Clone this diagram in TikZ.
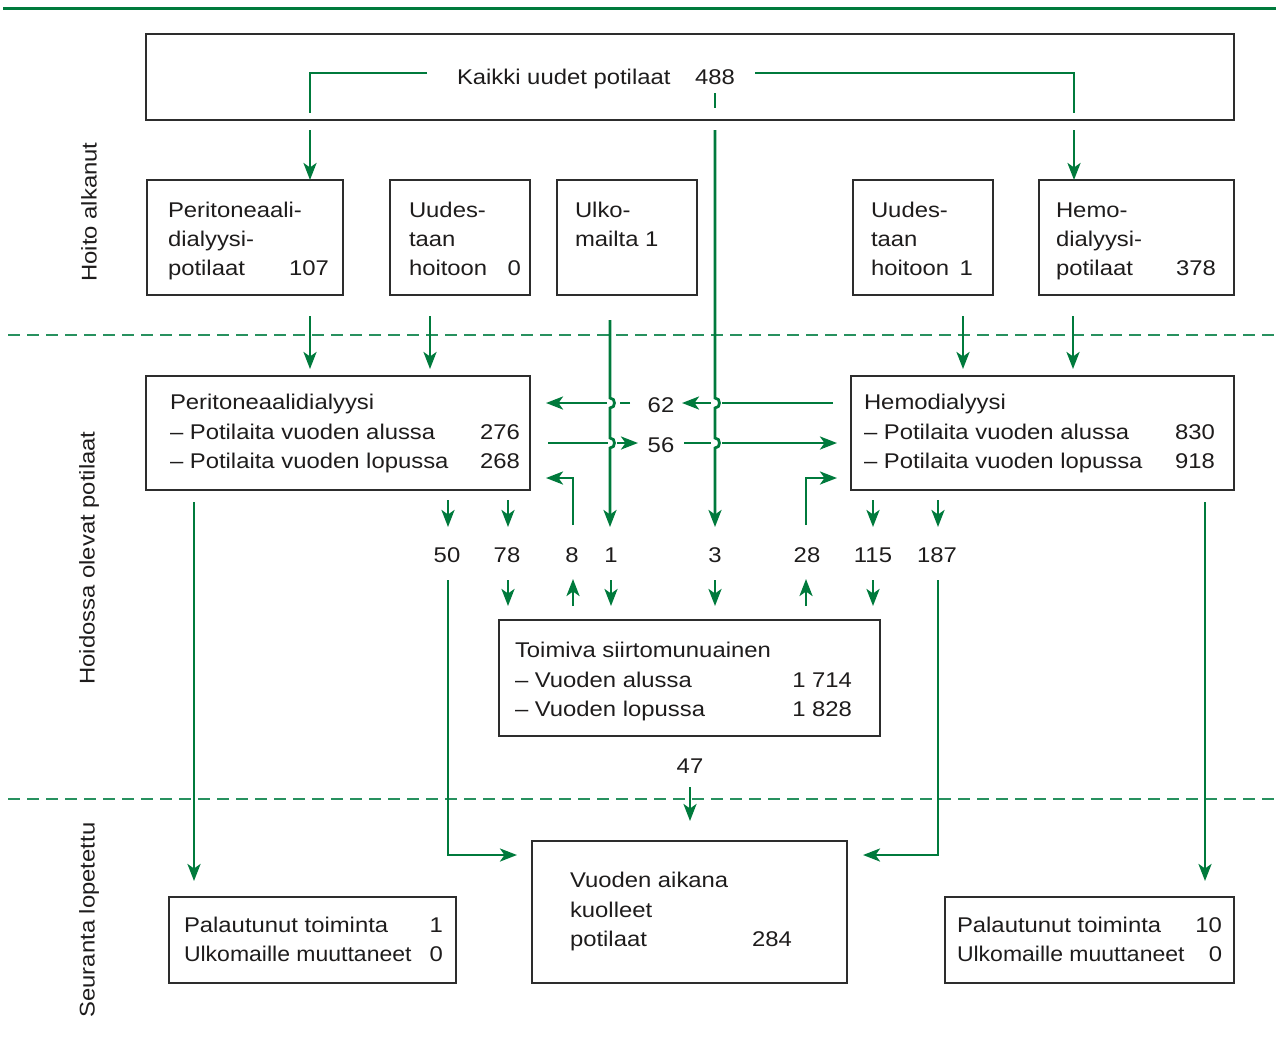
\documentclass[tikz,border=0pt]{standalone}
\usepackage{fontspec}
\setmainfont{Liberation Sans}[FakeStretch=1.12]
\usetikzlibrary{arrows.meta}
\definecolor{gr}{RGB}{0,122,60}
\definecolor{dgr}{RGB}{40,145,95}
\definecolor{txt}{RGB}{30,28,28}
\definecolor{boxc}{RGB}{45,45,45}
\newcommand\fsz{\fontsize{21.3}{29}\selectfont}
\begin{document}
\begin{tikzpicture}[x=1pt,y=-1pt,
  every node/.style={inner sep=0pt, outer sep=0pt, text=txt, font=\fsz},
  bx/.style={draw=boxc, line width=1.4pt},
  tl/.style={anchor=base west},
  tr/.style={anchor=base east},
  tc/.style={anchor=base},
  gl/.style={draw=gr, line width=2.8pt},
  ar/.style={gl, -{Stealth[length=17pt,width=13pt,inset=4.5pt]}},
  dl/.style={draw=dgr, line width=2pt, dash pattern=on 12pt off 7pt}]
\useasboundingbox (0,0) rectangle (1276,1037);

% rules
\draw[gr, line width=3pt] (3,8) -- (1276,8);
\draw[dl] (8,335) -- (1276,335);
\draw[dl] (8,799) -- (1276,799);

% side labels
\node[rotate=90] (lab1) at (89,212) {Hoito alkanut};
\node[rotate=90] (lab2) at (89,558) {Hoidossa olevat potilaat};
\node[rotate=90] (lab3) at (89,920) {Seuranta lopetettu};

% boxes
\node[bx, minimum width=1088pt, minimum height=86pt] (top) at (690,77) {};
\node[bx, minimum width=196pt, minimum height=115pt] (bA) at (245,237.5) {};
\node[bx, minimum width=140pt, minimum height=115pt] (bB) at (460,237.5) {};
\node[bx, minimum width=140pt, minimum height=115pt] (bC) at (627,237.5) {};
\node[bx, minimum width=140pt, minimum height=115pt] (bD) at (923,237.5) {};
\node[bx, minimum width=195pt, minimum height=115pt] (bE) at (1136.5,237.5) {};
\node[bx, minimum width=384pt, minimum height=114pt] (pd) at (338,433) {};
\node[bx, minimum width=383pt, minimum height=114pt] (hd) at (1042.5,433) {};
\node[bx, minimum width=381pt, minimum height=116pt] (tx) at (689.5,678) {};
\node[bx, minimum width=315pt, minimum height=142pt] (dead) at (689.5,912) {};
\node[bx, minimum width=287pt, minimum height=86pt] (bl) at (312.5,940) {};
\node[bx, minimum width=289pt, minimum height=86pt] (br) at (1089.5,940) {};

% texts
\node[tl] (tK) at (457,84) {Kaikki uudet potilaat};
\node[tr] (t488) at (735,84) {488};

\node[tl] (a1) at (168,217) {Peritoneaali-};
\node[tl] (a2) at (168,246) {dialyysi-};
\node[tl] (a3) at (168,275) {potilaat};
\node[tr] (a4) at (329,275) {107};

\node[tl] (b1) at (409,217) {Uudes-};
\node[tl] (b2) at (409,246) {taan};
\node[tl] (b3) at (409,275) {hoitoon};
\node[tr] (b4) at (521,275) {0};

\node[tl] (c1) at (575,217) {Ulko-};
\node[tl] (c2) at (575,246) {mailta 1};

\node[tl] (d1) at (871,217) {Uudes-};
\node[tl] (d2) at (871,246) {taan};
\node[tl] (d3) at (871,275) {hoitoon};
\node[tr] (d4) at (973,275) {1};

\node[tl] (e1) at (1056,217) {Hemo-};
\node[tl] (e2) at (1056,246) {dialyysi-};
\node[tl] (e3) at (1056,275) {potilaat};
\node[tr] (e4) at (1216,275) {378};

\node[tl] (p1) at (170,409) {Peritoneaalidialyysi};
\node[tl] (p2) at (170,439) {– Potilaita vuoden alussa};
\node[tl] (p3) at (170,468) {– Potilaita vuoden lopussa};
\node[tr] (p4) at (520,439) {276};
\node[tr] (p5) at (520,468) {268};

\node[tl] (h1) at (864,409) {Hemodialyysi};
\node[tl] (h2) at (864,439) {– Potilaita vuoden alussa};
\node[tl] (h3) at (864,468) {– Potilaita vuoden lopussa};
\node[tr] (h4) at (1215,439) {830};
\node[tr] (h5) at (1215,468) {918};

\node[tl] (x1) at (515,657) {Toimiva siirtomunuainen};
\node[tl] (x2) at (515,687) {– Vuoden alussa};
\node[tl] (x3) at (515,716) {– Vuoden lopussa};
\node[tr] (x4) at (852,687) {1 714};
\node[tr] (x5) at (852,716) {1 828};

\node[tl] (k1) at (570,887) {Vuoden aikana};
\node[tl] (k2) at (570,917) {kuolleet};
\node[tl] (k3) at (570,946) {potilaat};
\node[tr] (k4) at (792,946) {284};

\node[tl] (l1) at (184,932) {Palautunut toiminta};
\node[tl] (l2) at (184,961) {\addfontfeature{FakeStretch=1.08}Ulkomaille muuttaneet};
\node[tr] (l3) at (443,932) {1};
\node[tr] (l4) at (443,961) {0};

\node[tl] (r1) at (957,932) {Palautunut toiminta};
\node[tl] (r2) at (957,961) {\addfontfeature{FakeStretch=1.08}Ulkomaille muuttaneet};
\node[tr] (r3) at (1222,932) {10};
\node[tr] (r4) at (1222,961) {0};

% flow numbers
\node[tc] (n62) at (661,412) {62};
\node[tc] (n56) at (661,452) {56};
\node[tc] (n50) at (447,562) {50};
\node[tc] (n78) at (507,562) {78};
\node[tc] (n8) at (572,562) {8};
\node[tc] (n1) at (611,562) {1};
\node[tc] (n3) at (715,562) {3};
\node[tc] (n28) at (807,562) {28};
\node[tc] (n115) at (873,562) {115};
\node[tc] (n187) at (937,562) {187};
\node[tc] (n47) at (690,773) {47};

% connectors: top box
\coordinate (kL) at (427,73);
\coordinate (kR) at (755,73);
\draw[gl] (kL) -| (310,113);
\draw[gl] (kR) -| (1074,113);
\draw[gl] (715,93) -- (715,108);
\draw[ar] (310,130) -- (bA.north -| 310,176);
\draw[ar] (1074,130) -- (bE.north -| 1074,176);

% row2 -> row3
\draw[ar] (310,316) -- (310,369);
\draw[ar] (430,316) -- (430,369);
\draw[ar] (963,316) -- (963,369);
\draw[ar] (1073,316) -- (1073,369);

% vertical lines with hops
\draw[ar] (610,320) -- (610,398) .. controls (616,398) and (616,408) .. (610,408)
  -- (610,438) .. controls (616,438) and (616,448) .. (610,448) -- (610,527);
\draw[ar] (715,130) -- (715,398) .. controls (721,398) and (721,408) .. (715,408)
  -- (715,438) .. controls (721,438) and (721,448) .. (715,448) -- (715,527);

% horizontal transfers
\draw[gl] (833,403) -- (722,403);
\draw[ar] (711,403) -- (682,403);
\draw[gl] (630,403) -- (620,403);
\draw[ar] (607,403) -- (546,403);
\draw[gl] (548,443) -- (608,443);
\draw[ar] (617,443) -- (638,443);
\draw[gl] (684,443) -- (711,443);
\draw[ar] (722,443) -- (837,443);

% 8 and 28 returns
\draw[ar] (573,525) -- (573,478) -- (546,478);
\draw[ar] (806,525) -- (806,478) -- (837,478);

% box -> numbers
\draw[ar] (448,500) -- (448,527);
\draw[ar] (508,500) -- (508,527);
\draw[ar] (873,500) -- (873,527);
\draw[ar] (938,500) -- (938,527);

% numbers -> transplant box
\draw[ar] (508,580) -- (508,606);
\draw[ar] (611,580) -- (611,606);
\draw[ar] (715,580) -- (715,606);
\draw[ar] (873,580) -- (873,606);
\draw[ar] (573,606) -- (573,579);
\draw[ar] (806,606) -- (806,579);

% deaths
\draw[ar] (448,580) |- (517,855);
\draw[ar] (938,580) |- (863,855);
\draw[ar] (690,787) -- (690,821);

% long side arrows
\draw[ar] (194,502) -- (194,881);
\draw[ar] (1205,502) -- (1205,881);
\end{tikzpicture}
\end{document}
